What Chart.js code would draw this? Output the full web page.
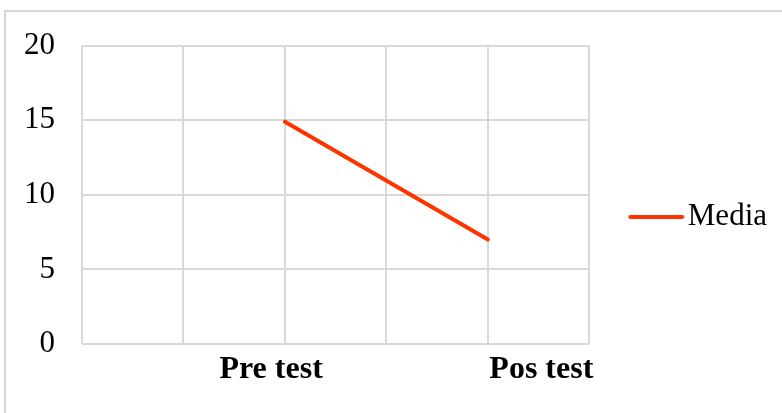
<!DOCTYPE html>
<html>
<head>
<meta charset="utf-8">
<script src="https://cdn.jsdelivr.net/npm/chart.js@4"></script>
<style>
  html, body { margin: 0; padding: 0; background: #ffffff; overflow: hidden; }
  #wrap { position: relative; width: 782px; height: 413px; overflow: hidden; }
  #frame { position: absolute; left: 4px; top: 10px; width: 900px; height: 600px;
           border: 2px solid #d6d6d6; box-sizing: border-box; }
  #c { position: absolute; left: 0; top: 0; }
</style>
</head>
<body>
<div id="wrap">
  <div id="frame"></div>
  <canvas id="c" width="782" height="413"></canvas>
</div>
<script>
// ---- data ----
const categories = ['Pre test', 'Pos test'];
const media = [14.9, 7.0];
const yTicks = [0, 5, 10, 15, 20];
const seriesName = 'Media';

// category slots on the axis (Excel-style: blank slots around the two tests)
const slots = ['', '', categories[0], '', categories[1], ''];
const slotData = slots.map(s => {
  const i = categories.indexOf(s);
  return i >= 0 ? media[i] : null;
});

const LINE_COLOR = '#FF3300';
const GRID = '#d9d9d9';
const SERIF = "'Liberation Serif', 'Times New Roman', serif";

// legend line symbol
const sym = document.createElement('canvas');
sym.width = 110; sym.height = 8;
(function () {
  const g = sym.getContext('2d');
  g.strokeStyle = LINE_COLOR; g.lineWidth = 4; g.lineCap = 'round';
  g.beginPath(); g.moveTo(35, 4); g.lineTo(87, 4); g.stroke();
})();

// label positions for category names (layout only)
const labelAt = [1.864, 4.527];

new Chart(document.getElementById('c'), {
  type: 'line',
  data: {
    labels: slots,
    datasets: [{
      label: seriesName,
      data: slotData,
      borderColor: LINE_COLOR,
      backgroundColor: LINE_COLOR,
      borderWidth: 4,
      borderCapStyle: 'round',
      pointRadius: 0,
      spanGaps: true,
      tension: 0
    }]
  },
  options: {
    responsive: false,
    animation: false,
    layout: { padding: { top: 43, left: 0, right: 5, bottom: 22 } },
    plugins: {
      tooltip: { enabled: false },
      legend: {
        position: 'right',
        labels: {
          usePointStyle: true,
          pointStyle: sym,
          pointStyleWidth: 44,
          padding: 39,
          color: '#000',
          font: { family: SERIF, size: 31 }
        }
      }
    },
    scales: {
      x: {
        type: 'category',
        offset: false,
        grid: { color: GRID, lineWidth: 2, drawTicks: false },
        border: { display: false },
        ticks: { display: false },
        afterFit: s => { s.height = 0; }
      },
      x2: {
        type: 'linear',
        position: 'bottom',
        min: 0, max: 5,
        grid: { display: false, drawTicks: false },
        border: { display: false },
        afterBuildTicks: s => { s.ticks = labelAt.map(v => ({ value: v })); },
        ticks: {
          padding: 7,
          maxRotation: 0,
          color: '#000',
          font: { family: SERIF, size: 32, weight: 'bold' },
          callback: (v, i) => categories[i]
        },
        afterFit: s => { s.height = 47; }
      },
      y: {
        min: 0, max: 20,
        afterBuildTicks: s => { s.ticks = yTicks.map(v => ({ value: v })); },
        grid: { color: GRID, lineWidth: 2, drawTicks: false },
        border: { display: false },
        ticks: {
          padding: 27,
          color: '#000',
          font: { family: SERIF, size: 31 }
        },
        afterFit: s => { s.width = 82; }
      }
    }
  }
});
</script>
</body>
</html>
